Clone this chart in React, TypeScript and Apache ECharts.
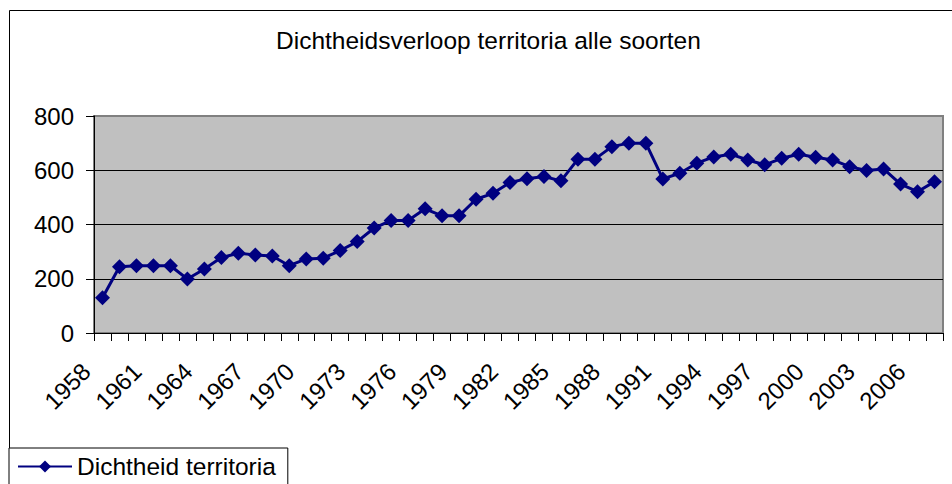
import React, { useEffect, useRef } from "react";
import * as echarts from "echarts";

const years = [
  "1958", "1959", "1960", "1961", "1962", "1963", "1964", "1965", "1966", "1967",
  "1968", "1969", "1970", "1971", "1972", "1973", "1974", "1975", "1976", "1977",
  "1978", "1979", "1980", "1981", "1982", "1983", "1984", "1985", "1986", "1987",
  "1988", "1989", "1990", "1991", "1992", "1993", "1994", "1995", "1996", "1997",
  "1998", "1999", "2000", "2001", "2002", "2003", "2004", "2005", "2006", "2007",
];

const density = [
  130, 244, 248, 248, 248, 199, 236, 278, 294, 288,
  284, 248, 273, 276, 304, 337, 387, 415, 415, 458,
  432, 432, 493, 515, 555, 569, 577, 561, 641, 641,
  687, 700, 700, 568, 589, 626, 649, 659, 638, 620,
  644, 659, 648, 638, 613, 599, 605, 549, 521, 558,
];

const titleText = "Dichtheidsverloop territoria alle soorten";
const seriesName = "Dichtheid territoria";

const FONT = "'Liberation Sans', Arial, sans-serif";

export default function App() {
  const ref = useRef<HTMLDivElement>(null);

  useEffect(() => {
    document.body.style.margin = "0";
    const chart = echarts.init(ref.current!, null, { renderer: "svg" });
    chart.setOption({
      animation: false,
      backgroundColor: "#ffffff",
      textStyle: { fontFamily: FONT },
      title: {
        text: titleText,
        left: 276,
        top: 28,
        padding: 0,
        textStyle: { fontFamily: FONT, fontSize: 24.5, fontWeight: "normal", color: "#000" },
      },
      graphic: [
        {
          type: "rect",
          z: -10,
          shape: { x: 9.5, y: 10.5, width: 1200, height: 1200 },
          style: { fill: "none", stroke: "#000", lineWidth: 1 },
        },
      ],
      legend: {
        left: 9,
        top: 448,
        orient: "horizontal",
        padding: [6, 12, 20, 8],
        itemWidth: 54,
        itemHeight: 15,
        borderColor: "#000",
        borderWidth: 1,
        backgroundColor: "#fff",
        textStyle: { fontFamily: FONT, fontSize: 24.5, color: "#000" },
        data: [seriesName],
      },
      grid: {
        left: 94,
        right: 9,
        top: 116,
        bottom: 151,
        show: true,
        backgroundColor: "#C0C0C0",
        borderColor: "#808080",
        borderWidth: 2,
      },
      xAxis: {
        type: "category",
        data: years,
        boundaryGap: true,
        axisLine: { show: true, lineStyle: { color: "#000", width: 1 } },
        axisTick: { show: true, interval: 0, length: 8, lineStyle: { color: "#000" } },
        axisLabel: {
          interval: 2,
          rotate: 45,
          fontFamily: FONT,
          fontSize: 24,
          color: "#000",
          margin: 18,
          padding: [0, 23, 0, 0],
        },
        splitLine: { show: false },
      },
      yAxis: {
        type: "value",
        min: 0,
        max: 800,
        interval: 200,
        axisLine: { show: true, lineStyle: { color: "#000", width: 1 } },
        axisTick: { show: true, length: 8, lineStyle: { color: "#000" } },
        axisLabel: { fontFamily: FONT, fontSize: 24, color: "#000", margin: 20 },
        splitLine: {
          show: true,
          showMinLine: false,
          showMaxLine: false,
          lineStyle: { color: "#000", width: 1 },
        },
      },
      series: [
        {
          name: seriesName,
          type: "line",
          data: density,
          symbol: "diamond",
          symbolSize: 15,
          showSymbol: true,
          showAllSymbol: true,
          lineStyle: { color: "#000080", width: 3 },
          itemStyle: { color: "#000080" },
        },
      ],
    });
    return () => chart.dispose();
  }, []);

  return (
    <div
      ref={ref}
      style={{ position: "fixed", left: 0, top: 0, width: 952, height: 484 }}
    />
  );
}
